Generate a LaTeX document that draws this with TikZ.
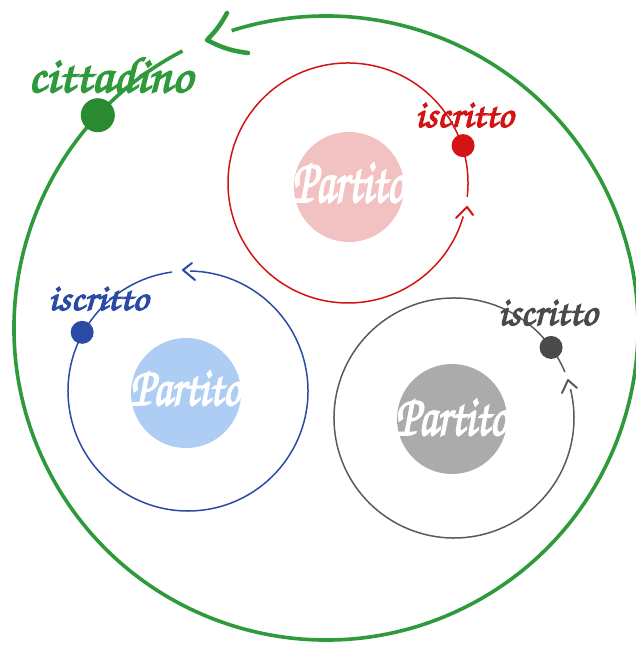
\documentclass[tikz,border=0pt]{standalone}
\usepackage[T1]{fontenc}
\usepackage{graphicx}
\newcommand{\scrfont}{\fontfamily{pzc}\fontseries{mb}\fontshape{it}\selectfont}
\newcommand{\heavy}[1]{\special{pdf:literal 2 Tr 0.3 w}#1\special{pdf:literal 0 Tr}}
\definecolor{cgreen}{HTML}{2F9A3C}
\definecolor{cgreendot}{HTML}{2A8A30}
\definecolor{cred}{HTML}{D41414}
\definecolor{cblue}{HTML}{2B4AA6}
\definecolor{cgrey}{HTML}{5A5A5A}
\definecolor{cgreydot}{HTML}{4A4A4A}
\definecolor{fpink}{HTML}{F2C1C1}
\definecolor{fblue}{HTML}{AECDF4}
\definecolor{fgrey}{HTML}{ABABAB}
\tikzset{
  bigring/.style={draw=cgreen, line width=3.6pt},
  ring/.style={line width=1.5pt},
  barb/.style={line width=2pt, line cap=round, line join=round},
  bigbarb/.style={draw=cgreen, line width=4.5pt, line cap=round, line join=round},
  lbl/.style={anchor=base west, inner sep=0pt},
}
\begin{document}
\begin{tikzpicture}[x=1pt,y=1pt]
\useasboundingbox (0,0) rectangle (636,645);
\fill[white] (0,0) rectangle (636,645);
% centres
\coordinate (cg) at (326,317);
\coordinate (cr) at (348,462);
\coordinate (cb) at (188,254);
\coordinate (ck) at (454,227);
% filled party discs
\fill[fpink] (349,458) circle (55pt);
\fill[fblue] (186,252) circle (55pt);
\fill[fgrey] (452,226) circle (55pt);
% rings
\draw[bigring] (cg) ++(117.4:312pt) arc[start angle=117.4, end angle=467.6, radius=312pt];
\draw[ring, draw=cred] (cr) ++(-6.6:120pt) arc[start angle=-6.6, end angle=343.8, radius=120pt];
\draw[ring, draw=cblue] (cb) ++(97.6:120pt) arc[start angle=97.6, end angle=449, radius=120pt];
\draw[ring, draw=cgrey] (ck) ++(22.5:120pt) arc[start angle=22.5, end angle=373.9, radius=120pt];
% arrow heads
\coordinate (gt) at (207,605);
\coordinate (ga1) at (227,632);
\coordinate (ga2) at (248,592);
\draw[bigbarb] (ga1) to[bend left=8] (gt) to[bend right=10] (ga2);
\coordinate (rt) at (467,438);
\coordinate (ra1) at (456,427);
\coordinate (ra2) at (473,430);
\draw[barb, draw=cred] (ra1) -- (rt) -- (ra2);
\coordinate (bt) at (183,375);
\coordinate (ba1) at (192,382);
\coordinate (ba2) at (195,365);
\draw[barb, draw=cblue] (ba1) -- (bt) -- (ba2);
\coordinate (kt) at (568,265);
\coordinate (ka1) at (562,252);
\coordinate (ka2) at (577,257);
\draw[barb, draw=cgrey] (ka1) -- (kt) -- (ka2);
% dots
\fill[cgreendot] (cg) ++(137:312pt) circle (17pt);
\fill[cred] (cr) ++(18:121pt) circle (11.5pt);
\fill[cblue] (cb) ++(151:121pt) circle (11.5pt);
\fill[cgreydot] (ck) ++(36:120pt) circle (11.5pt);
% labels
\node[lbl, text=cgreen] (cit) at (28,553) {\resizebox{164pt}{36pt}{\scrfont\heavy{cittadino}}};
\node[lbl, text=cred] (ir) at (415,518) {\resizebox{98pt}{24pt}{\scrfont\heavy{iscritto}}};
\node[lbl, text=cblue] (ib) at (48,335) {\resizebox{100pt}{23pt}{\scrfont\heavy{iscritto}}};
\node[lbl, text=cgreydot] (ik) at (498,320) {\resizebox{99pt}{25pt}{\scrfont\heavy{iscritto}}};
\node[lbl, text=white] (pr) at (292,443) {\resizebox{112pt}{39pt}{\scrfont\heavy{Partito}}};
\node[lbl, text=white] (pb) at (130,240) {\resizebox{110pt}{34pt}{\scrfont\heavy{Partito}}};
\node[lbl, text=white] (pk) at (395,210) {\resizebox{112pt}{36pt}{\scrfont\heavy{Partito}}};
\end{tikzpicture}
\end{document}
